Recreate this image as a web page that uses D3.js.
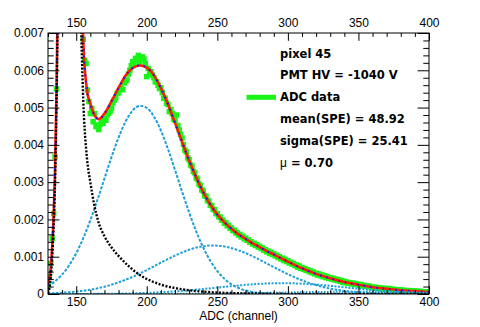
<!DOCTYPE html>
<html><head><meta charset="utf-8">
<script src="https://cdn.jsdelivr.net/npm/d3@7"></script>
<style>body{margin:0;background:#fff}</style>
</head><body>
<svg id="c" width="480" height="327"></svg>
<script>
// ---------------- data ----------------
const channelStart = 130, channelEnd = 400;
// ADC data, one value per channel (130..400); null = off-scale (above 0.007)
const adcData = [
/*130*/ .00024,.00046,.00082,.00149,.00216,.00368,.0055,null,null,null,
/*140*/ null,null,null,null,null,null,null,null,null,null,
/*150*/ null,null,null,null,null,.00683,.00627,.00618,.00547,.00516,
/*160*/ .00484,.00498,.00462,.00484,.00449,.00453,.00441,.00455,.00462,.00458,
/*170*/ .0047,.00466,.0048,.00485,.0049,.00498,.00512,.0052,.00526,.00538,
/*180*/ .0054,.00549,.00551,.00548,.00566,.00572,.00574,.0059,.006,.00612,
/*190*/ .00623,.00618,.00632,.00627,.0064,.00622,.00632,.00636,.0063,.00618,
/*200*/ .00583,.00605,.00594,.00596,.00587,.0058,.00569,.00569,.0056,.00551,
/*210*/ .00553,.0054,.00525,.00525,.00512,.00508,.00489,.00495,.00484,.0047,
/*220*/ .00466,.0048,.00452,.0044,.00428,.00418,.00401,.00386,.00381,.00365,
/*230*/ .0036,.00346,.00343,.00329,.00325,.00311,.00308,.00295,.00291,.00279,
/*240*/ .00276,.00264,.00262,.00251,.00249,.00238,.00237,.00227,.00226,.00216,
/*250*/ .00215,.00207,.00206,.00198,.00198,.0019,.00191,.00183,.00184,.00176,
/*260*/ .00177,.0017,.00171,.00164,.00165,.00158,.0016,.00153,.00155,.00148,
/*270*/ .0015,.00144,.00145,.00139,.0014,.00134,.00136,.0013,.00132,.00126,
/*280*/ .00128,.00122,.00123,.00117,.00119,.00113,.00115,.00109,.00112,.00106,
/*290*/ .00108,.00102,.00104,.00098,.001,.00094,.00096,.0009,.00093,.00087,
/*300*/ .00089,.00083,.00085,.0008,.00082,.00076,.00078,.00072,.00075,.00069,
/*310*/ .00071,.00066,.00068,.00063,.00065,.0006,.00062,.00057,.00059,.00054,
/*320*/ .00056,.00051,.00054,.00049,.00051,.00046,.00049,.00044,.00046,.00042,
/*330*/ .00044,.0004,.00042,.00038,.0004,.00036,.00038,.00034,.00036,.00031,
/*340*/ .00034,.0003,.00032,.00029,.0003,.00027,.00029,.00026,.00028,.00025,
/*350*/ .00026,.00023,.00025,.00022,.00023,.00021,.00022,.0002,.00021,.00017,
/*360*/ .00019,.00017,.00018,.00016,.00017,.00015,.00016,.00014,.00015,.00013,
/*370*/ .00015,.00013,.00014,.00012,.00013,.00011,.00012,.0001,.00011,.00009,
/*380*/ .00011,.00009,.0001,.00009,.00009,.00008,.00009,.00008,.00008,.00007,
/*390*/ .00008,.00007,.00007,.00006,.00007,.00006,.00006,.00005,.00006,.00005,
/*400*/ .00005
];
// total fit (red)
const fitTotal = [[130,.000254],[131,.000406],[132,.00073],[133,.0013],[134,.00214],[135,.00337],[136,.0054],[137,.0082],[138,.0115],[141,.0206],[145,.0258],[149,.021],[151,.0122],[152,.0111],[153,.0094],[154,.00788],[155,.00677],[156,.00607],[157,.00566],[158,.00537],[160,.0051],[163,.00479],[166,.00469],[170,.00484],[175,.00517],[180,.00553],[185,.00586],[190,.00606],[195,.00613],[200,.00607],[205,.00587],[210,.00552],[215,.00509],[220,.00459],[225,.00408],[230,.00358],[235,.00313],[240,.00273],[245,.0024],[250,.00213],[255,.00192],[260,.00175],[265,.0016],[270,.00148],[275,.00136],[280,.00126],[285,.00115],[290,.00106],[295,.00096],[300,.00087],[310,.00069],[320,.00054],[330,.00042],[340,.00032],[350,.00025],[360,.00018],[370,.00014],[380,.0001],[390,.000076],[400,.000054]];
// pedestal component (black)
const pedestalCurve = [[130,.00002],[131,.00015],[132,.00045],[133,.001],[134,.0018],[135,.003],[136,.005],[137,.0078],[138,.011],[141,.02],[145,.025],[149,.02],[151,.011],[152,.0098],[153,.008],[154,.0064],[155,.0052],[156,.0044],[157,.0039],[158,.0035],[160,.003],[163,.00235],[166,.0019],[170,.00155],[175,.00125],[181,.00098],[188,.00072],[195,.00051],[202,.00037],[210,.00025],[220,.00016],[230,.0001],[245,.00005],[260,.000025],[280,.00001],[300,.000004],[330,0],[400,0]];
// photo-electron components (light blue)
const pe1Curve = [[130,.000217],[135,.000343],[140,.000523],[145,.00077],[150,.001093],[155,.001498],[160,.001979],[165,.002521],[170,.003097],[175,.003671],[180,.004197],[185,.004627],[190,.00492],[195,.005046],[200,.004992],[205,.004763],[210,.004382],[215,.00389],[220,.00333],[225,.002749],[230,.002189],[235,.001681],[240,.001245],[245,.00089],[250,.000614],[255,.000408],[260,.000261],[265,.000162],[270,.000096],[275,.000055],[280,.000031],[290,.0000085],[300,.000002],[320,0],[400,0]];
const pe2Curve = [[130,.0000165],[140,.0000338],[150,.0000647],[160,.000116],[170,.000196],[180,.000311],[190,.000461],[200,.000643],[210,.00084],[220,.00103],[230,.001186],[240,.00128],[247,.0013],[255,.001274],[265,.001172],[275,.001012],[285,.00082],[295,.000624],[305,.000445],[315,.000298],[325,.000187],[335,.00011],[345,.0000608],[360,.0000222],[380,.0000046],[400,.0000007]];
const pe3Curve = [[130,.0000003],[150,.0000016],[170,.0000058],[190,.000018],[200,.00003],[210,.000047],[220,.00007],[230,.000099],[240,.000134],[250,.000172],[260,.000211],[270,.000245],[280,.000272],[290,.000288],[300,.000289],[310,.000277],[320,.000252],[330,.000219],[340,.00018],[350,.000142],[360,.000105],[370,.000075],[380,.000051],[390,.000033],[400,.00002]];
const pe4Curve = [[130,0],[180,.0000004],[200,.0000012],[220,.0000033],[240,.0000078],[260,.0000157],[280,.0000274],[300,.0000412],[320,.0000535],[340,.0000597],[360,.0000575],[380,.0000478],[400,.0000343]];

const xMajorTicks = [150,200,250,300,350,400];
const yMajorTicks = [0,0.001,0.002,0.003,0.004,0.005,0.006,0.007];
const yTickLabels = ["0","0.001","0.002","0.003","0.004","0.005","0.006","0.007"];
const xTitle = "ADC (channel)";
const legendLines = ["pixel 45","PMT HV = -1040 V","ADC data","mean(SPE) = 48.92","sigma(SPE) = 25.41","0.70"];

// ---------------- drawing ----------------
const svg = d3.select("#c");
const L=48, R=429, T=33, B=294;
const x = d3.scaleLinear().domain([channelStart, channelEnd]).range([L, R]);
const y = d3.scaleLinear().domain([0, 0.007]).range([B, T]);

svg.append("defs").append("clipPath").attr("id","clip")
  .append("rect").attr("x",L).attr("y",T).attr("width",R-L).attr("height",B-T);

const plot = svg.append("g").attr("clip-path","url(#clip)");
const line = d3.line().x(d=>x(d[0])).y(d=>y(d[1])).curve(d3.curveMonotoneX);

// data markers
const channels = d3.range(channelStart, channelEnd+1);
const pts = channels.map((c,i)=>[c, adcData[i]]).filter(d=>d[1]!=null && d[1]<=0.007);
const ms = 5.5;
plot.append("g").selectAll("rect").data(pts).join("rect")
  .attr("x",d=>x(d[0])-ms/2).attr("y",d=>y(d[1])-ms/2)
  .attr("width",ms).attr("height",ms).attr("fill","#17f517");

// fit
plot.append("path").datum(fitTotal).attr("d",line).attr("fill","none")
  .attr("stroke","#ff1a00").attr("stroke-width",2.6);
plot.append("path").datum(fitTotal).attr("d",line).attr("fill","none")
  .attr("stroke","#1010ff").attr("stroke-width",2).attr("stroke-dasharray","1.4,5");

// components
const cyan = "#1f9fd8";
[[pe4Curve,"1.5,1.5"],[pe3Curve,"2,1.5"],[pe2Curve,"2.5,1.5"],[pe1Curve,"3,1.5"]].forEach(([c,da])=>{
  plot.append("path").datum(c).attr("d",line).attr("fill","none")
    .attr("stroke",cyan).attr("stroke-width",2).attr("stroke-dasharray",da);
});
plot.append("path").datum(pedestalCurve).attr("d",line).attr("fill","none")
  .attr("stroke","#000").attr("stroke-width",2.4).attr("stroke-dasharray","2,1.6");

// axes
const fontAx = "'Liberation Sans', Arial, sans-serif";
const xMinor = d3.range(130, 401, 10).filter(v=>!xMajorTicks.includes(v));
const yMinor = d3.range(0, 36).map(i=>i*0.0002).filter(v=>v<=0.007 && i5(v));
function i5(v){ return Math.abs(Math.round(v/0.001)*0.001 - v) > 1e-9; }

function styleAxis(g){
  g.select(".domain").remove();
  g.selectAll("line").attr("stroke","#000").attr("stroke-width",1);
  g.selectAll("text").attr("font-family",fontAx).attr("font-size",12).attr("fill","#000");
}
// bottom
svg.append("g").attr("transform",`translate(0,${B})`)
  .call(d3.axisBottom(x).tickValues(xMajorTicks).tickSize(-7.8).tickPadding(3).tickFormat(d3.format("d"))).call(styleAxis);
svg.append("g").attr("transform",`translate(0,${B})`)
  .call(d3.axisBottom(x).tickValues(xMinor).tickSize(-3.9).tickFormat("")).call(styleAxis);
// top
svg.append("g").attr("transform",`translate(0,${T})`)
  .call(d3.axisTop(x).tickValues(xMajorTicks).tickSize(-7.8).tickPadding(6).tickFormat(d3.format("d"))).call(styleAxis);
svg.append("g").attr("transform",`translate(0,${T})`)
  .call(d3.axisTop(x).tickValues(xMinor).tickSize(-3.9).tickFormat("")).call(styleAxis);
// left
svg.append("g").attr("transform",`translate(${L},0)`)
  .call(d3.axisLeft(y).tickValues(yMajorTicks).tickSize(-11.4).tickPadding(4).tickFormat((d,i)=>yTickLabels[i])).call(styleAxis);
svg.append("g").attr("transform",`translate(${L},0)`)
  .call(d3.axisLeft(y).tickValues(yMinor).tickSize(-5.7).tickFormat("")).call(styleAxis);
// right
svg.append("g").attr("transform",`translate(${R},0)`)
  .call(d3.axisRight(y).tickValues(yMajorTicks).tickSize(-11.4).tickFormat("")).call(styleAxis);
svg.append("g").attr("transform",`translate(${R},0)`)
  .call(d3.axisRight(y).tickValues(yMinor).tickSize(-5.7).tickFormat("")).call(styleAxis);

// frame
svg.append("rect").attr("x",L).attr("y",T).attr("width",R-L).attr("height",B-T)
  .attr("fill","none").attr("stroke","#000").attr("stroke-width",1);

// x title
svg.append("text").attr("x",(L+R)/2).attr("y",319.5).attr("text-anchor","middle")
  .attr("font-family",fontAx).attr("font-size",12).text(xTitle);

// legend
const legFont = "'DejaVu Sans', sans-serif";
const legX = 280, legY0 = 57.5, legDy = 21.9;
const leg = svg.append("g").attr("font-family",legFont).attr("font-size",11.5).attr("font-weight","bold");
legendLines.forEach((t,i)=>{
  const tx = leg.append("text").attr("x",legX).attr("y",legY0+i*legDy);
  if(i===5){
    tx.append("tspan").attr("font-weight","normal").attr("font-family",fontAx).attr("font-size",12).text("\u03bc");
    tx.append("tspan").text(" = "+t);
  } else tx.text(t);
});
svg.append("line").attr("x1",246.5).attr("x2",276).attr("y1",legY0+2*legDy-4).attr("y2",legY0+2*legDy-4)
  .attr("stroke","#17f517").attr("stroke-width",5);
</script>
</body></html>
